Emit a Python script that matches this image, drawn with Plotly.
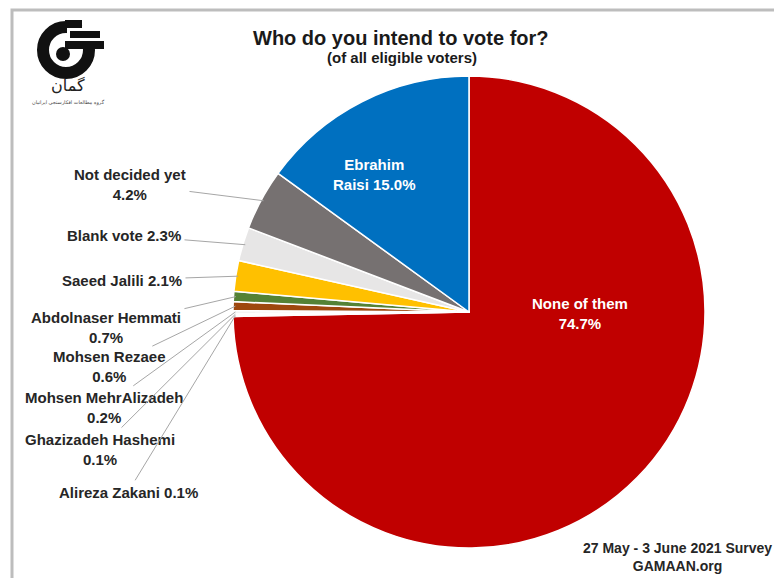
import math
import plotly.graph_objects as go

OFF = 8                      # page body margin of the browser
W, H = 782 - OFF, 578 - OFF  # figure size so that the page fills the window

# ---- data ----
labels = ["None of them", "Alireza Zakani", "Ghazizadeh Hashemi", "Mohsen MehrAlizadeh",
          "Mohsen Rezaee", "Abdolnaser Hemmati", "Saeed Jalili", "Blank vote",
          "Not decided yet", "Ebrahim Raisi"]
values = [74.7, 0.1, 0.1, 0.2, 0.6, 0.7, 2.1, 2.3, 4.2, 15.0]
colors = ["#C00000", "#FBE5D6", "#FFF2CC", "#F2F2F2", "#9E480E", "#548235",
          "#FFC000", "#E7E6E6", "#767171", "#0070C0"]

title = "Who do you intend to vote for?"
subtitle = "(of all eligible voters)"
footer = ["27 May - 3 June 2021 Survey", "GAMAAN.org"]

FONT = "Liberation Sans, Arial, sans-serif"

# ---- layout geometry (page pixels) ----
CX, CY, R = 469, 312, 236

def P(x, y):
    """page pixel -> paper coordinates"""
    return (x - OFF) / W, 1 - (y - OFF) / H

fig = go.Figure()
d0 = P(CX - R, CY + R)
d1 = P(CX + R, CY - R)
fig.add_trace(go.Pie(
    labels=labels, values=values, sort=False, direction="clockwise", rotation=0,
    marker=dict(colors=colors, line=dict(color="white", width=1.5)),
    textinfo="none", hoverinfo="label+percent", showlegend=False,
    domain=dict(x=[d0[0], d1[0]], y=[d0[1], d1[1]]),
))

total = sum(values)
cum = 0
mid_angles = {}
for lab, v in zip(labels, values):
    mid_angles[lab] = 360 * (cum + v / 2) / total
    cum += v

def edge_point(lab, frac=0.99):
    a = math.radians(mid_angles[lab])
    return CX + frac * R * math.sin(a), CY - frac * R * math.cos(a)

annotations = []
font_lbl = dict(family=FONT, size=15, color="#262626")

def text_ann(x, y, text, font, **kw):
    px, py = P(x, y)
    d = dict(x=px, y=py, xref="paper", yref="paper", text=text, showarrow=False,
             xanchor="center", yanchor="middle", font=font, align="center")
    d.update(kw)
    return d

outside = [
    ("Not decided yet", True, (130, 184)),
    ("Blank vote", False, (124, 235)),
    ("Saeed Jalili", False, (122, 280)),
    ("Abdolnaser Hemmati", True, (106, 327)),
    ("Mohsen Rezaee", True, (109, 367)),
    ("Mohsen MehrAlizadeh", True, (104, 407)),
    ("Ghazizadeh Hashemi", True, (100, 449)),
    ("Alireza Zakani", False, (128, 492)),
]
for lab, two, (lx, ly) in outside:
    v = values[labels.index(lab)]
    txt = f"<b>{lab}<br>{v:.1f}%</b>" if two else f"<b>{lab} {v:.1f}%</b>"
    px, py = edge_point(lab)
    x, y = P(px, py)
    annotations.append(dict(
        x=x, y=y, xref="paper", yref="paper", ax=lx - px, ay=ly - py,
        text=txt, showarrow=True, arrowhead=0, arrowwidth=1, arrowcolor="#A6A6A6",
        standoff=0, startstandoff=2, font=font_lbl, align="center",
    ))

font_in = dict(family=FONT, size=15, color="white")
for lab, txt, (lx, ly) in [
    ("Ebrahim Raisi", "<b>Ebrahim<br>Raisi {:.1f}%</b>", (374, 174)),
    ("None of them", "<b>None of them<br>{:.1f}%</b>", (580, 313)),
]:
    v = values[labels.index(lab)]
    annotations.append(text_ann(lx, ly, txt.format(v), font_in))

annotations.append(text_ann(401, 38, f"<b>{title}</b>", dict(family=FONT, size=20, color="#1a1a1a")))
annotations.append(text_ann(402, 57, f"<b>{subtitle}</b>", dict(family=FONT, size=15, color="#1a1a1a")))
annotations.append(text_ann(677, 557, f"<b>{footer[0]}<br>{footer[1]}</b>",
                            dict(family=FONT, size=14, color="#262626")))

# logo texts
annotations.append(text_ann(68, 86, "گمان", dict(family="DejaVu Sans", size=16, color="#222")))
annotations.append(text_ann(68, 102, "گروه مطالعات افکارسنجی ایرانیان",
                            dict(family="DejaVu Sans", size=5, color="#444")))

shapes = []
def rect_px(x0, y0, x1, y1, **kw):
    a0, b0 = P(x0, y0)
    a1, b1 = P(x1, y1)
    d = dict(type="rect", xref="paper", yref="paper", x0=a0, y0=b1, x1=a1, y1=b0)
    d.update(kw)
    return d

def circ_px(cx, cy, r, **kw):
    a0, b0 = P(cx - r, cy - r)
    a1, b1 = P(cx + r, cy + r)
    d = dict(type="circle", xref="paper", yref="paper", x0=a0, y0=b1, x1=a1, y1=b0)
    d.update(kw)
    return d

# frame
shapes.append(rect_px(12, 10, 800, 600, line=dict(color="#BDBDBD", width=3)))
# logo: ring, dot and blocks
shapes.append(circ_px(66, 50, 23, line=dict(color="#111", width=12)))
shapes.append(rect_px(67, 26, 104, 46, fillcolor="white", line=dict(width=0)))
shapes.append(rect_px(65, 20, 82, 28, fillcolor="#111", line=dict(width=0)))
shapes.append(rect_px(70, 31, 100, 38, fillcolor="#111", line=dict(width=0)))
shapes.append(rect_px(65, 41, 104, 49, fillcolor="#111", line=dict(width=0)))
shapes.append(circ_px(63, 54, 7, fillcolor="#111", line=dict(width=0)))

fig.update_layout(
    width=W, height=H, autosize=False,
    margin=dict(l=0, r=0, t=0, b=0),
    paper_bgcolor="white", plot_bgcolor="white",
    annotations=annotations, shapes=shapes,
)

fig.write_html("out.html")
